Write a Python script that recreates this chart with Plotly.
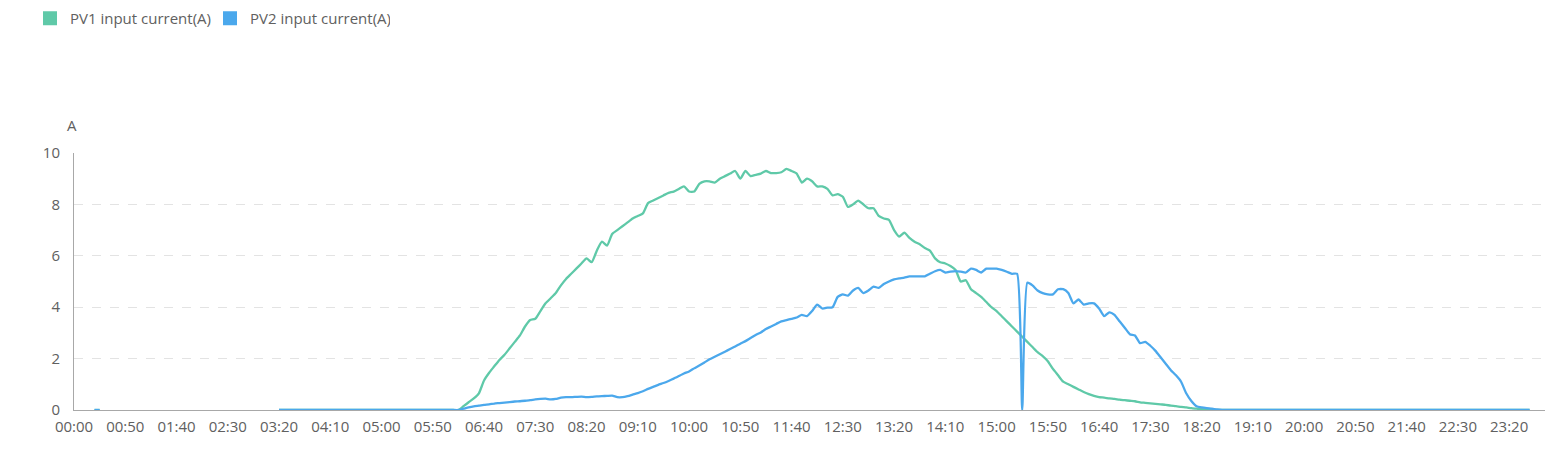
import plotly.graph_objects as go

# 5-minute categories for the whole day
times = [f"{h:02d}:{m:02d}" for h in range(24) for m in range(0, 60, 5)]
tick_labels = times[::10]

# short night segment (00:20-00:25)
night_pv1 = [0, 0]
night_pv2 = [0, 0]

# 03:20 .. 23:40 (indices 40..284)
pv1_day = [
    0, 0, 0, 0, 0, 0, 0, 0, 0, 0,
    0, 0, 0, 0, 0, 0, 0, 0, 0, 0,
    0, 0, 0, 0, 0, 0, 0, 0, 0, 0,
    0, 0, 0, 0, 0,
    0.0, 0.15, 0.3, 0.45, 0.65, 1.15, 1.45, 1.7, 1.95, 2.15,
    2.4, 2.65, 2.9, 3.25, 3.5, 3.55, 3.85, 4.15, 4.35, 4.55,
    4.85, 5.1, 5.3, 5.5, 5.7, 5.9, 5.75, 6.2, 6.55, 6.4,
    6.85, 7.0, 7.15, 7.3, 7.45, 7.55, 7.65, 8.05, 8.15, 8.25,
    8.35, 8.45, 8.5, 8.6, 8.7, 8.5, 8.5, 8.8, 8.9, 8.9,
    8.85, 9.0, 9.1, 9.2, 9.3, 9.0, 9.3, 9.1, 9.15, 9.2,
    9.3, 9.22, 9.22, 9.25, 9.38, 9.3, 9.2, 8.85, 9.0, 8.9,
    8.7, 8.7, 8.6, 8.35, 8.4, 8.3, 7.9, 8.0, 8.15, 8.0,
    7.85, 7.85, 7.55, 7.45, 7.4, 7.0, 6.75, 6.9, 6.7, 6.55,
    6.45, 6.3, 6.2, 5.9, 5.75, 5.7, 5.6, 5.45, 5.0, 5.05,
    4.7, 4.55, 4.4, 4.2, 4.0, 3.85, 3.65, 3.45, 3.25, 3.05,
    2.85, 2.65, 2.45, 2.25, 2.1, 1.9, 1.6, 1.35, 1.1, 1.0,
    0.9, 0.8, 0.7, 0.62, 0.55, 0.5, 0.48, 0.45, 0.43, 0.4,
    0.38, 0.36, 0.34, 0.3, 0.28, 0.26, 0.24, 0.22, 0.2, 0.17,
    0.15, 0.12, 0.1, 0.07, 0.05, 0.03, 0.02, 0.01, 0.0, 0.0,
    0, 0, 0, 0, 0, 0, 0, 0, 0, 0,
    0, 0, 0, 0, 0, 0, 0, 0, 0, 0,
    0, 0, 0, 0, 0, 0, 0, 0, 0, 0,
    0, 0, 0, 0, 0, 0, 0, 0, 0, 0,
    0, 0, 0, 0, 0, 0, 0, 0, 0, 0,
    0, 0, 0, 0, 0, 0, 0, 0, 0, 0,
]

pv2_day = [
    0, 0, 0, 0, 0, 0, 0, 0, 0, 0,
    0, 0, 0, 0, 0, 0, 0, 0, 0, 0,
    0, 0, 0, 0, 0, 0, 0, 0, 0, 0,
    0, 0, 0, 0, 0,
    0.0, 0.05, 0.1, 0.14, 0.17, 0.2, 0.22, 0.25, 0.27, 0.29,
    0.31, 0.33, 0.34, 0.36, 0.38, 0.41, 0.43, 0.44, 0.41, 0.43,
    0.48, 0.5, 0.5, 0.51, 0.52, 0.5, 0.51, 0.53, 0.54, 0.55,
    0.56, 0.5, 0.5, 0.54, 0.6, 0.66, 0.73, 0.82, 0.9, 0.98,
    1.05, 1.13, 1.22, 1.32, 1.42, 1.5, 1.62, 1.73, 1.85, 1.97,
    2.07, 2.17, 2.27, 2.37, 2.47, 2.58, 2.68, 2.8, 2.92, 3.02,
    3.15, 3.25, 3.35, 3.45, 3.5, 3.55, 3.6, 3.7, 3.65, 3.85,
    4.1, 3.95, 3.98, 4.0, 4.4, 4.5, 4.45, 4.65, 4.75, 4.55,
    4.65, 4.8, 4.75, 4.9, 5.0, 5.08, 5.12, 5.15, 5.2, 5.2,
    5.2, 5.2, 5.3, 5.4, 5.45, 5.35, 5.38, 5.4, 5.38, 5.35,
    5.5, 5.45, 5.35, 5.5, 5.5, 5.5, 5.45, 5.38, 5.3, 5.3,
    0.0, 4.95, 4.85, 4.65, 4.55, 4.5, 4.5, 4.7, 4.7, 4.55,
    4.15, 4.3, 4.1, 4.15, 4.15, 3.95, 3.65, 3.8, 3.7, 3.45,
    3.2, 2.95, 2.9, 2.6, 2.65, 2.5, 2.3, 2.05, 1.8, 1.55,
    1.35, 1.1, 0.65, 0.35, 0.15, 0.1, 0.07, 0.05, 0.02, 0.0,
    0, 0, 0, 0, 0, 0, 0, 0, 0, 0,
    0, 0, 0, 0, 0, 0, 0, 0, 0, 0,
    0, 0, 0, 0, 0, 0, 0, 0, 0, 0,
    0, 0, 0, 0, 0, 0, 0, 0, 0, 0,
    0, 0, 0, 0, 0, 0, 0, 0, 0, 0,
    0, 0, 0, 0, 0, 0, 0, 0, 0, 0,
]

series_names = ["PV1 input current(A)", "PV2 input current(A)"]
series_colors = ["#5fc9a8", "#4ba8ec"]


def build(night, day):
    y = [None] * len(times)
    y[4:4 + len(night)] = night
    y[40:40 + len(day)] = day
    return y


pv1 = build(night_pv1, pv1_day)
pv2 = build(night_pv2, pv2_day)

W, H = 1547, 435  # page body adds an 8px margin around the figure
M_L, M_R, M_T, M_B = 66, 10, 145, 33
PLOT_H = H - M_T - M_B
FONT = "Open Sans"
fig = go.Figure()
for name, ys, col in zip(series_names, [pv1, pv2], series_colors):
    fig.add_trace(go.Scatter(
        x=times, y=ys, mode="lines", name=name, legendgroup=name,
        showlegend=False, connectgaps=False,
        line=dict(color=col, width=2.3, shape="spline", smoothing=0.5),
    ))
for name, col in zip(series_names, series_colors):
    fig.add_trace(go.Scatter(
        x=[None], y=[None], mode="markers", name=name, legendgroup=name,
        marker=dict(symbol="square", size=14, color=col),
    ))

fig.update_layout(
    width=W, height=H,
    margin=dict(l=M_L, r=M_R, t=M_T, b=M_B, autoexpand=False),
    paper_bgcolor="white", plot_bgcolor="white",
    font=dict(family=FONT, size=15, color="#606060"),
    showlegend=True,
    legend=dict(
        orientation="h", xref="container", yref="paper",
        x=22 / W, y=1 + (M_T + 6) / PLOT_H, xanchor="left", yanchor="top",
        font=dict(family=FONT, size=15, color="#606060"),
        entrywidth=135, entrywidthmode="pixels",
        tracegroupgap=0, bgcolor="rgba(0,0,0,0)",
    ),
    xaxis=dict(
        type="category", categoryorder="array", categoryarray=times,
        range=[0, len(times) - 1],
        tickmode="array", tickvals=tick_labels, ticktext=tick_labels,
        tickangle=0, automargin=False, ticklabelstandoff=3,
        showgrid=False, showline=True, linecolor="#a8a8a8", linewidth=1,
        ticks="", tickfont=dict(size=15, color="#606060"),
        zeroline=False,
    ),
    yaxis=dict(
        range=[0, 10], dtick=2, tick0=0, automargin=False,
        showgrid=True, gridcolor="#e3e3e3", griddash="dash", gridwidth=1,
        showline=True, linecolor="#a8a8a8", linewidth=1,
        ticks="", ticklabelstandoff=10,
        tickfont=dict(size=15, color="#606060"), zeroline=False,
    ),
    annotations=[dict(
        text="A", xref="paper", yref="paper", x=0, y=1,
        xanchor="center", yanchor="middle", xshift=-2, yshift=28,
        showarrow=False, font=dict(family=FONT, size=15, color="#606060"),
    )],
)

fig.write_html("out.html")
